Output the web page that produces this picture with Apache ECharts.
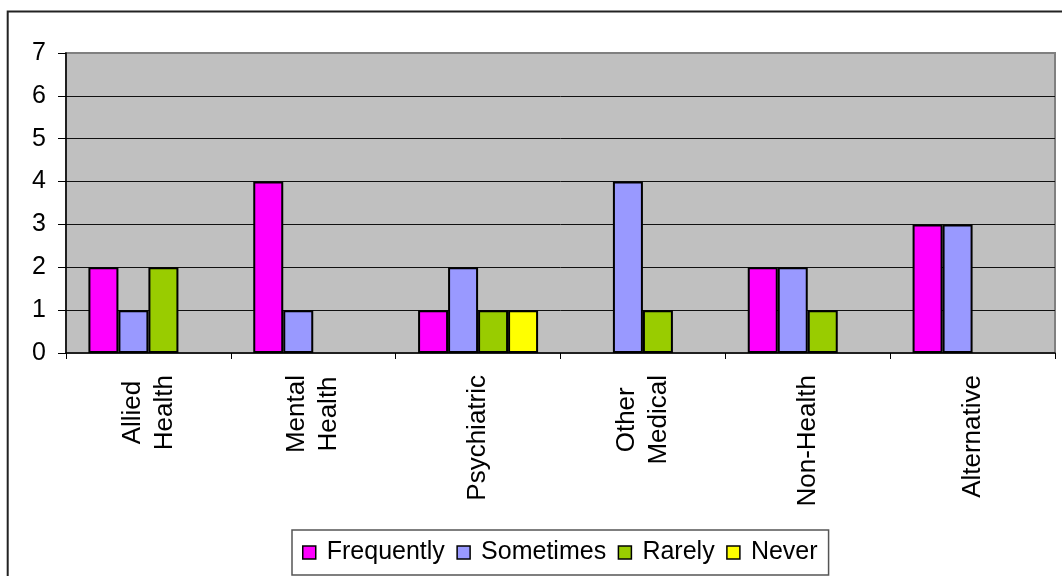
<!DOCTYPE html>
<html>
<head>
<meta charset="utf-8">
<script src="https://cdn.jsdelivr.net/npm/echarts@6/dist/echarts.min.js"></script>
<style>
  html, body { margin: 0; padding: 0; background: #fff; }
  #chart { width: 1062px; height: 576px; }
</style>
</head>
<body>
<div id="chart"></div>
<script>
// Referral sources by how often they are used
const categories = ['Allied\nHealth', 'Mental\nHealth', 'Psychiatric', 'Other\nMedical', 'Non-Health', 'Alternative'];
const frequently = [2, 4, 1, 0, 2, 3];
const sometimes  = [1, 1, 2, 4, 2, 3];
const rarely     = [2, 0, 1, 1, 1, 0];
const never      = [0, 0, 1, 0, 0, 0];
const yTicks = [0, 1, 2, 3, 4, 5, 6, 7];

const seriesNames  = ['Frequently', 'Sometimes', 'Rarely', 'Never'];
const seriesValues = [frequently, sometimes, rarely, never];
const seriesColors = ['#FF00FF', '#9999FF', '#99CC00', '#FFFF00'];

const FONT = '"Liberation Sans", Arial, sans-serif';

const chart = echarts.init(document.getElementById('chart'), null, { renderer: 'canvas' });

chart.setOption({
  backgroundColor: '#ffffff',
  animation: false,
  textStyle: { fontFamily: FONT, color: '#000' },
  graphic: [{
    type: 'rect',
    shape: { x: 7.7, y: 11.5, width: 1200, height: 700 },
    style: { fill: null, stroke: '#222', lineWidth: 2 },
    silent: true,
    z: 100
  }],
  grid: {
    left: 66, top: 53, right: 7, bottom: 223,
    show: true,
    backgroundColor: '#C0C0C0',
    borderColor: '#808080',
    borderWidth: 2
  },
  legend: {
    data: seriesNames,
    left: 292, top: 530,
    orient: 'horizontal',
    padding: [10, 11, 10, 10],
    borderColor: '#555',
    borderWidth: 1.5,
    itemWidth: 13, itemHeight: 13,
    itemGap: 11.5,
    icon: 'rect',
    itemStyle: { borderColor: '#000', borderWidth: 1.5 },
    textStyle: { fontSize: 25, fontFamily: FONT, color: '#000', padding: [0, 0, 0, 6] }
  },
  xAxis: {
    type: 'category',
    data: categories,
    axisLine: { show: true, lineStyle: { color: '#000', width: 1.5 } },
    axisTick: { show: true, length: 6, alignWithLabel: false, lineStyle: { color: '#000' } },
    splitLine: { show: false },
    axisLabel: {
      interval: 0,
      rotate: 90,
      margin: 22,
      fontSize: 26,
      lineHeight: 32,
      color: '#000',
      fontFamily: FONT,
      formatter: v => v.split('\n').map(s => '{c|' + s + '}').join('\n'),
      rich: {
        c: { align: 'center', fontSize: 26, lineHeight: 32, color: '#000', fontFamily: FONT }
      }
    }
  },
  yAxis: {
    type: 'value',
    min: yTicks[0],
    max: yTicks[yTicks.length - 1],
    interval: 1,
    axisLine: { show: true, lineStyle: { color: '#000', width: 1.5 } },
    axisTick: { show: true, length: 8, lineStyle: { color: '#000' } },
    axisLabel: { fontSize: 25, color: '#000', margin: 20, fontFamily: FONT },
    splitLine: {
      show: true,
      showMinLine: false,
      showMaxLine: false,
      lineStyle: { color: '#111', width: 1 }
    }
  },
  series: seriesNames.map((name, i) => ({
    name: name,
    type: 'bar',
    barWidth: 30,
    barGap: '0%',
    // an empty slot is left where a category has no responses
    data: seriesValues[i].map(v => (v === 0 ? '-' : v)),
    itemStyle: { color: seriesColors[i], borderColor: '#000', borderWidth: 2 }
  }))
});
</script>
</body>
</html>
